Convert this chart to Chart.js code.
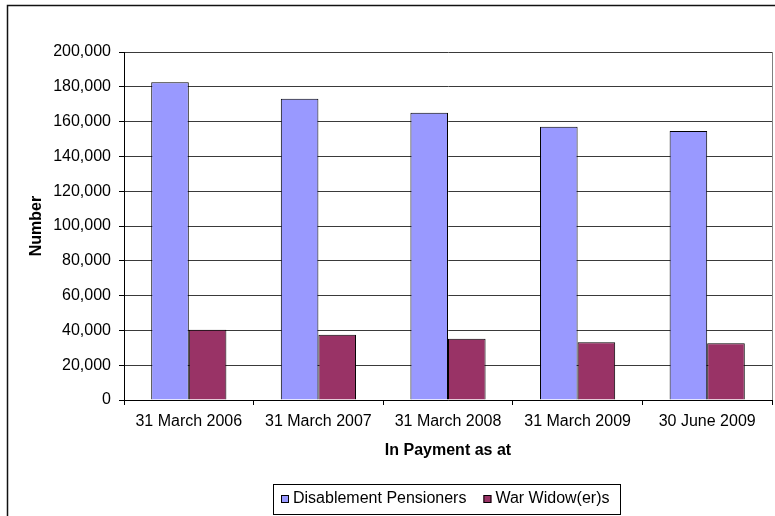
<!DOCTYPE html>
<html>
<head>
<meta charset="utf-8">
<script src="https://cdn.jsdelivr.net/npm/chart.js@4/dist/chart.umd.min.js"></script>
<style>
  html, body { margin: 0; padding: 0; background: #fff; }
  #wrap { width: 775px; height: 516px; position: relative; }
</style>
</head>
<body>
<div id="wrap"><canvas id="c" width="775" height="516"></canvas></div>
<script>
const categories = ['31 March 2006', '31 March 2007', '31 March 2008', '31 March 2009', '30 June 2009'];
const disablementPensioners = [182600, 173200, 165100, 157100, 154600];
const warWidowers = [40400, 37500, 35200, 33200, 32600];
const seriesNames = ['Disablement Pensioners', 'War Widow(er)s'];
const yTickMax = 200000;
const yTickStep = 20000;

const FONT = "'Liberation Sans', Arial, sans-serif";

const framePlugin = {
  id: 'frame',
  afterDraw(chart) {
    const ctx = chart.ctx;
    const a = chart.chartArea;
    ctx.save();
    // outer chart frame (cropped on right & bottom)
    ctx.strokeStyle = '#111';
    ctx.lineWidth = 1.5;
    ctx.beginPath();
    ctx.moveTo(7.5, 516);
    ctx.lineTo(7.5, 5.5);
    ctx.lineTo(775, 5.5);
    ctx.stroke();
    // plot area right border
    ctx.strokeStyle = '#808080';
    ctx.lineWidth = 1;
    ctx.beginPath();
    ctx.moveTo(Math.round(a.right) + 0.5, a.top);
    ctx.lineTo(Math.round(a.right) + 0.5, a.bottom);
    ctx.stroke();

    // legend
    const font = '16px ' + FONT;
    ctx.font = font;
    ctx.textBaseline = 'middle';
    ctx.textAlign = 'left';
    const boxLeft = 273, boxTop = 484, boxH = 30;
    const cy = boxTop + boxH / 2;
    let x = boxLeft + 8;
    let lastEnd = x;
    chart.data.datasets.forEach((ds, i) => {
      ctx.fillStyle = ds.backgroundColor;
      ctx.fillRect(x, cy - 4, 8, 8);
      ctx.strokeStyle = '#000';
      ctx.lineWidth = 1;
      ctx.strokeRect(x + 0.5, cy - 4 + 0.5, 7, 7);
      x += 12;
      ctx.fillStyle = '#000';
      ctx.fillText(ds.label, x, cy);
      lastEnd = x + ctx.measureText(ds.label).width;
      x = lastEnd + 17;
    });
    const boxRight = Math.max(lastEnd + 9, 620);
    ctx.strokeStyle = '#000';
    ctx.lineWidth = 1;
    ctx.strokeRect(boxLeft + 0.5, boxTop + 0.5, boxRight - boxLeft, boxH);
    ctx.restore();
  }
};

new Chart(document.getElementById('c'), {
  type: 'bar',
  data: {
    labels: categories,
    datasets: [
      {
        label: seriesNames[0],
        data: disablementPensioners,
        backgroundColor: '#9999FF',
        borderColor: '#000000',
        borderWidth: 1
      },
      {
        label: seriesNames[1],
        data: warWidowers,
        backgroundColor: '#993366',
        borderColor: '#000000',
        borderWidth: 1
      }
    ]
  },
  options: {
    responsive: false,
    animation: false,
    devicePixelRatio: 1,
    layout: { padding: { top: 52, right: 3, left: 0, bottom: 0 } },
    datasets: { bar: { categoryPercentage: 0.58, barPercentage: 1.0 } },
    plugins: {
      legend: { display: false },
      tooltip: { enabled: false },
      title: { display: false }
    },
    scales: {
      x: {
        afterFit(s) { s.height = 116; },
        grid: { display: true, drawOnChartArea: false, drawTicks: true, tickLength: 5, tickColor: '#000', offset: true },
        border: { display: true, color: '#000', width: 1 },
        ticks: { color: '#000', font: { family: FONT, size: 16 }, padding: 7, maxRotation: 0, autoSkip: false },
        title: {
          display: true,
          text: 'In Payment as at',
          color: '#000',
          font: { family: FONT, size: 16, weight: 'bold' },
          padding: { top: 0, bottom: 56 }
        }
      },
      y: {
        min: 0,
        max: yTickMax,
        afterFit(s) { s.width = 124; },
        grid: { color: '#3a3a3a', lineWidth: 1, drawTicks: true, tickLength: 5, tickColor: '#000' },
        border: { display: true, color: '#000', width: 1 },
        ticks: {
          stepSize: yTickStep,
          color: '#000',
          padding: 8,
          font: { family: FONT, size: 16 },
          callback: v => v.toLocaleString('en-US')
        },
        title: {
          display: true,
          text: 'Number',
          color: '#000',
          font: { family: FONT, size: 16, weight: 'bold' },
          padding: { top: 27, bottom: 0 }
        }
      }
    }
  },
  plugins: [framePlugin]
});
</script>
</body>
</html>
